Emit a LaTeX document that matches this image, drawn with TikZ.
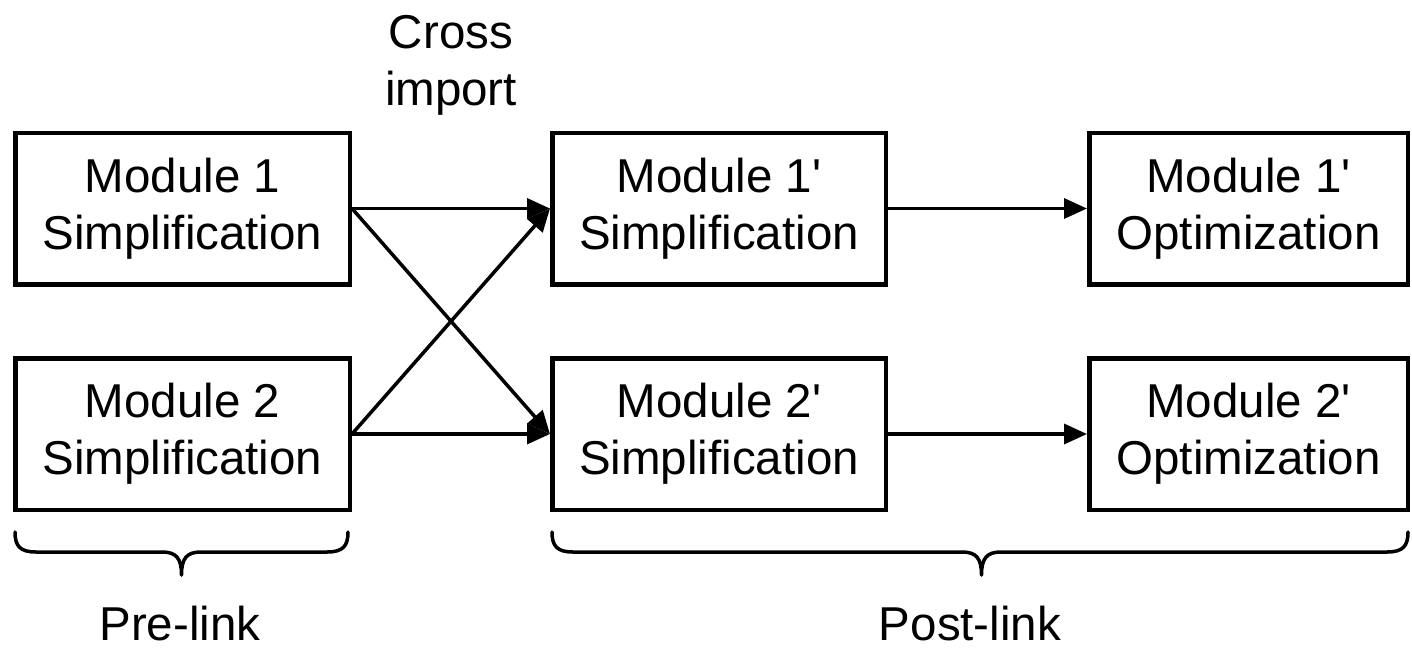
\documentclass[tikz,border=0pt]{standalone}
\usepackage{fontspec}
% plain family: no TeX ligature mapping, so ' stays a straight apostrophe
\newfontfamily\arialfont{Liberation Sans}
\usetikzlibrary{arrows.meta}
\begin{document}
\begin{tikzpicture}[x=1pt,y=-1pt,
  txt/.style={font=\arialfont\fontsize{47.5}{57}\selectfont},
  stage/.style={txt, draw, line width=4.5pt, rectangle, inner sep=0pt,
    minimum height=151.5pt, align=center},
  lbl/.style={txt, align=center, inner sep=0pt},
  flow/.style={line width=3.5pt, -{Triangle[length=23pt,width=20pt]}},
  brace/.style={line width=3.5pt, line cap=round, line join=round}]
\useasboundingbox (0,0) rectangle (1412,648);

% stage boxes
\node[stage, minimum width=334.5pt] (s1)  at (182.5,208.5) {Module 1\\Simplification};
\node[stage, minimum width=334.5pt] (s2)  at (182.5,434)   {Module 2\\Simplification};
\node[stage, minimum width=333.5pt] (s1p) at (719,208.5)   {Module 1'\\Simplification};
\node[stage, minimum width=333.5pt] (s2p) at (719,434)     {Module 2'\\Simplification};
\node[stage, minimum width=318.5pt] (o1)  at (1248.5,208.5) {Module 1'\\Optimization};
\node[stage, minimum width=318.5pt] (o2)  at (1248.5,434)   {Module 2'\\Optimization};

% connectors
\draw[flow] (s1.east) -- (s1p.west);
\draw[flow] (s1.east) -- (s2p.west);
\draw[flow] (s2.east) -- (s1p.west);
\draw[flow] (s2.east) -- (s2p.west);
\draw[flow] (s1p.east) -- (o1.west);
\draw[flow] (s2p.east) -- (o2.west);

% labels
\node[lbl, anchor=center] (cross) at (451,65) {Cross\\import};
\node[lbl, anchor=base] (pre)  at (180,640) {Pre-link};
\node[lbl, anchor=base] (post) at (970,640) {Post-link};

% braces
\draw[brace] (15,532) .. controls (15,546) and (20,552) .. (36,552)
  -- (162,552) .. controls (176,552) and (181.5,558) .. (181.5,575)
  .. controls (181.5,558) and (187,552) .. (201,552)
  -- (327,552) .. controls (343,552) and (348,546) .. (348,532);
\draw[brace] (552,532) .. controls (552,546) and (557,552) .. (573,552)
  -- (962,552) .. controls (976,552) and (981.5,558) .. (981.5,575)
  .. controls (981.5,558) and (987,552) .. (1001,552)
  -- (1387,552) .. controls (1403,552) and (1408,546) .. (1408,532);
\end{tikzpicture}
\end{document}
